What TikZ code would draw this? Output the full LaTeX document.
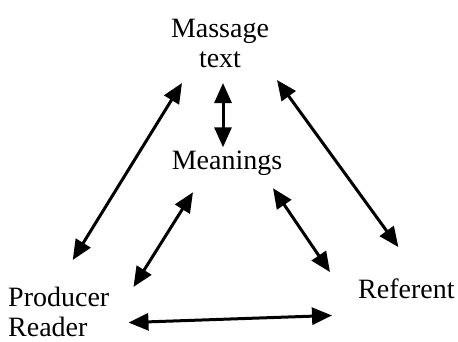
\documentclass[tikz,border=0pt]{standalone}
\usepackage{fontspec}
\setmainfont{Liberation Serif}
\usetikzlibrary{arrows.meta}

\begin{document}
\begin{tikzpicture}[x=1pt,y=-1pt,
  lbl/.style={inner sep=0pt,font=\fontsize{28}{30}\selectfont},
  arr/.style={{Triangle[length=20pt,width=17pt]}-{Triangle[length=20pt,width=17pt]},line width=3pt}]
\useasboundingbox (0,0) rectangle (458,342);
\node[lbl,align=center,anchor=north] (msg) at (220,19) {Massage\\text};
\node[lbl,anchor=base] (mean) at (227,170) {Meanings};
\node[lbl,align=left,anchor=north west] (prod) at (8,287) {Producer\\Reader};
\node[lbl,anchor=base west] (ref) at (358,298) {Referent};
\draw[arr] ([shift={(-38,15)}]msg.south) -- ([shift={(14,-27)}]prod.north);
\draw[arr] ([shift={(57,12)}]msg.south) -- ([shift={(-8,-31)}]ref.north);
\draw[arr] ([shift={(3,15)}]msg.south) -- ([shift={(-4,-4)}]mean.north);
\draw[arr] ([shift={(-34,16)}]mean.south) -- ([shift={(24,0)}]prod.north east);
\draw[arr] ([shift={(46,12)}]mean.south) -- ([shift={(-28,-6)}]ref.north west);
\draw[arr] ([shift={(19,10.5)}]prod.east) -- ([shift={(-26,17)}]ref.south west);
\end{tikzpicture}
\end{document}
